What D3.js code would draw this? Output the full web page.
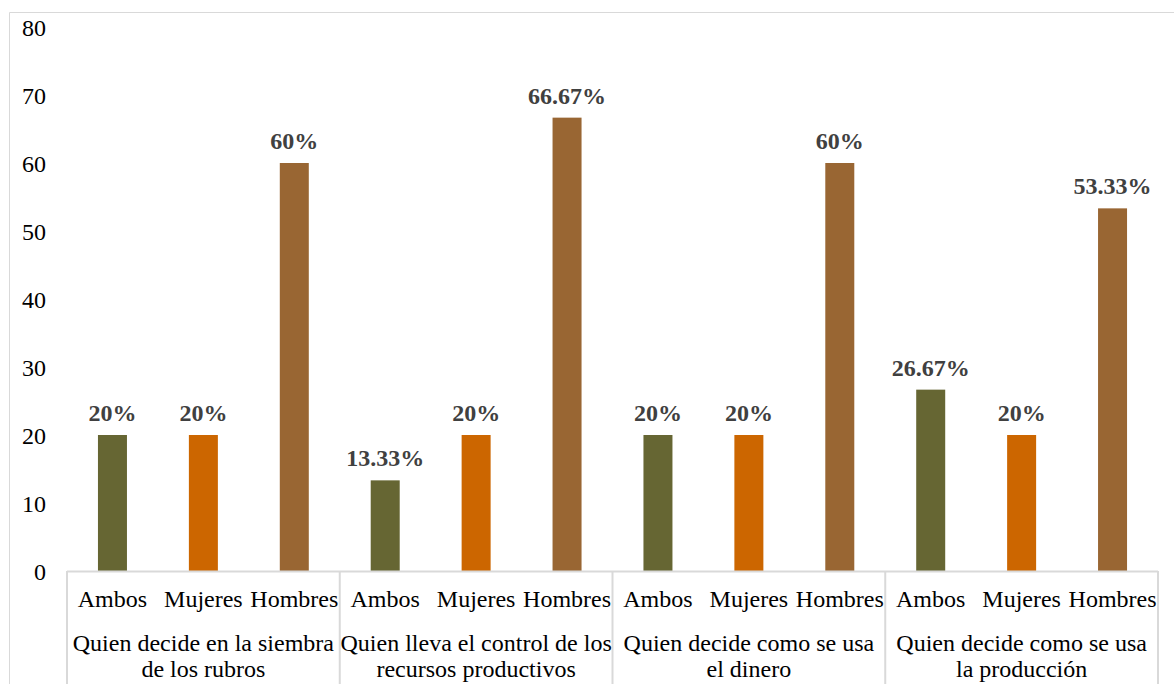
<!DOCTYPE html>
<html><head><meta charset="utf-8">
<script src="https://cdn.jsdelivr.net/npm/d3@7"></script>
</head><body style="margin:0">
<svg id="chart" width="1174" height="684" font-family="Liberation Serif"></svg>
<script>
const groups = [
  ["Quien decide en la siembra", "de los rubros"],
  ["Quien lleva el control de los", "recursos productivos"],
  ["Quien decide como se usa", "el dinero"],
  ["Quien decide como se usa", "la producción"]
];
const subCategories = ["Ambos", "Mujeres", "Hombres"];
const ambos = [20, 13.33, 20, 26.67];
const mujeres = [20, 20, 20, 20];
const hombres = [60, 66.67, 60, 53.33];
const valueLabels = [
  ["20%", "20%", "60%"],
  ["13.33%", "20%", "66.67%"],
  ["20%", "20%", "60%"],
  ["26.67%", "20%", "53.33%"]
];
const yTicks = [0, 10, 20, 30, 40, 50, 60, 70, 80];
const colors = ["#666633", "#cc6600", "#996633"];

const svg = d3.select("#chart");
const mLeft = 67, mRight = 1158, mTop = 27, mBottom = 571;
const FS = "24px";
const FF = "Liberation Serif";

svg.append("path").attr("d", "M9.5,684 V12.5 H1174").attr("fill", "none").attr("stroke", "#d9d9d9").attr("stroke-width", 1);

const y = d3.scaleLinear().domain([0, 80]).range([mBottom, mTop]);
const x0 = d3.scaleBand().domain(d3.range(groups.length)).range([mLeft, mRight]);
const x1 = d3.scaleBand().domain(subCategories).range([0, x0.bandwidth()]);
const barW = 29;
const series = [ambos, mujeres, hombres];

const yAxis = d3.axisLeft(y).tickValues(yTicks).tickSize(0).tickPadding(0);
const gy = svg.append("g").attr("transform", "translate(46,0)").call(yAxis);
gy.attr("font-family", FF).attr("font-size", FS);
gy.select(".domain").remove();
gy.selectAll("text").style("font-family", FF).style("font-size", FS).attr("fill", "#000").attr("dy", "0.34em");

groups.forEach((g, gi) => {
  subCategories.forEach((s, si) => {
    const v = series[si][gi];
    const cx = x0(gi) + x1(s) + x1.bandwidth() / 2;
    svg.append("rect")
      .attr("x", cx - barW / 2).attr("y", y(v))
      .attr("width", barW).attr("height", y(0) - y(v))
      .attr("fill", colors[si]);
    svg.append("text")
      .attr("x", cx).attr("y", y(v) - 14)
      .attr("text-anchor", "middle")
      .style("font-family", FF).style("font-size", FS).style("font-weight", "bold")
      .attr("fill", "#404040")
      .text(valueLabels[gi][si]);
  });
});

const lineColor = "#d9d9d9";
svg.append("line").attr("x1", mLeft).attr("x2", mRight).attr("y1", mBottom + 0.5).attr("y2", mBottom + 0.5)
  .attr("stroke", lineColor).attr("stroke-width", 2);
d3.range(groups.length + 1).forEach(i => {
  const xx = i < groups.length ? x0(i) : mRight;
  svg.append("line").attr("x1", xx).attr("x2", xx).attr("y1", mBottom).attr("y2", 684)
    .attr("stroke", lineColor).attr("stroke-width", 2);
});

groups.forEach((g, gi) => {
  subCategories.forEach((s) => {
    svg.append("text")
      .attr("x", x0(gi) + x1(s) + x1.bandwidth() / 2).attr("y", 607)
      .attr("text-anchor", "middle")
      .style("font-family", FF).style("font-size", FS).attr("fill", "#000")
      .text(s);
  });
  g.forEach((line, li) => {
    svg.append("text")
      .attr("x", x0(gi) + x0.bandwidth() / 2).attr("y", 651 + li * 26)
      .attr("text-anchor", "middle")
      .style("font-family", FF).style("font-size", FS).attr("fill", "#000")
      .text(line);
  });
});
</script>
</body></html>
